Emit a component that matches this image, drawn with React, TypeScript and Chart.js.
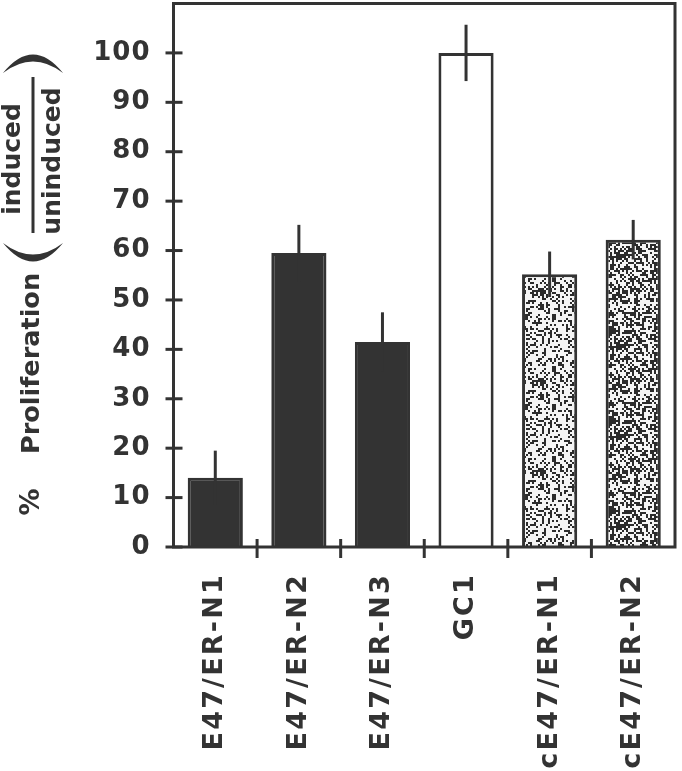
import React, { useEffect, useRef } from 'react';
import { Chart, registerables } from 'chart.js';

Chart.register(...registerables);

// ---- data ----
const categories = ['E47/ER-N1', 'E47/ER-N2', 'E47/ER-N3', 'GC1', 'cE47/ER-N1', 'cE47/ER-N2'];
const values = [14, 59.5, 41.5, 100, 55.2, 62.2];
const errors = [5.5, 5.7, 6, 5.7, 4.6, 4];
const yTicks = [0, 10, 20, 30, 40, 50, 60, 70, 80, 90, 100];
const titlePercent = '%';
const titleMain = 'Proliferation';
const titleNumerator = 'induced';
const titleDenominator = 'uninduced';

const INK = '#333333';
const FONT = '"DejaVu Sans", Verdana, sans-serif';

function hash(x: number, y: number, seed: number) {
  let h = (Math.imul(x, 374761393) + Math.imul(y, 668265263) + Math.imul(seed, 1442695041)) | 0;
  h = Math.imul(h ^ (h >>> 13), 1274126177);
  h ^= h >>> 16;
  return (h >>> 0) / 4294967296;
}

function makeStipple(density: number, seed: number) {
  const size = 90;
  const c = document.createElement('canvas');
  c.width = size;
  c.height = size;
  const g = c.getContext('2d')!;
  g.fillStyle = '#f4f4f4';
  g.fillRect(0, 0, size, size);
  g.fillStyle = '#2b2b2b';
  for (let y = 0; y < size; y += 2) {
    for (let x = 0; x < size; x += 2) {
      if (hash(x, y, seed) < density) g.fillRect(x, y, 2, 2);
    }
  }
  return g.createPattern(c, 'repeat')!;
}

function line(ctx: CanvasRenderingContext2D, x1: number, y1: number, x2: number, y2: number) {
  ctx.beginPath();
  ctx.moveTo(x1, y1);
  ctx.lineTo(x2, y2);
  ctx.stroke();
}

const decor = {
  id: 'decor',
  beforeDraw(chart: any) {
    const ctx = chart.ctx as CanvasRenderingContext2D;
    ctx.save();
    ctx.fillStyle = '#ffffff';
    ctx.fillRect(0, 0, chart.width, chart.height);
    ctx.restore();
  },
  afterDatasetsDraw(chart: any) {
    const ctx = chart.ctx as CanvasRenderingContext2D;
    const a = chart.chartArea;
    const xs = chart.scales.x;
    const ys = chart.scales.y;
    ctx.save();
    ctx.strokeStyle = INK;
    ctx.fillStyle = INK;
    ctx.lineWidth = 3;

    // error bars
    const meta = chart.getDatasetMeta(0);
    meta.data.forEach((bar: any, i: number) => {
      const y1 = ys.getPixelForValue(values[i] + errors[i]);
      const y2 = ys.getPixelForValue(values[i] - errors[i]);
      line(ctx, bar.x, y1, bar.x, y2);
    });

    // frame
    ctx.strokeRect(a.left, a.top, a.right - a.left, a.bottom - a.top);

    // y tick marks
    yTicks.forEach((v) => {
      const y = ys.getPixelForValue(v);
      line(ctx, a.left - 8, y, a.left + 9, y);
    });
    // x tick marks between categories
    for (let i = 1; i < categories.length; i++) {
      const x = (xs.getPixelForValue(i - 1) + xs.getPixelForValue(i)) / 2;
      line(ctx, x, a.bottom - 8, x, a.bottom + 11);
    }

    // y tick labels
    ctx.font = `bold 26px ${FONT}`;
    (ctx as any).letterSpacing = '1px';
    ctx.textAlign = 'right';
    ctx.textBaseline = 'middle';
    yTicks.forEach((v) => {
      ctx.fillText(String(v), a.left - 23, ys.getPixelForValue(v));
    });

    // x labels (rotated)
    ctx.font = `bold 27px ${FONT}`;
    (ctx as any).letterSpacing = '2.2px';
    categories.forEach((c, i) => {
      ctx.save();
      ctx.translate(xs.getPixelForValue(i), a.bottom + 26);
      ctx.rotate(-Math.PI / 2);
      ctx.textAlign = 'right';
      ctx.textBaseline = 'middle';
      ctx.fillText(c, 0, 0);
      ctx.restore();
    });

    // y title
    const rotText = (t: string, x: number, y: number, align: CanvasTextAlign, font: string, spacing: string) => {
      ctx.save();
      ctx.translate(x, y);
      ctx.rotate(-Math.PI / 2);
      ctx.font = font;
      (ctx as any).letterSpacing = spacing;
      ctx.textAlign = align;
      ctx.textBaseline = 'middle';
      ctx.fillText(t, 0, 0);
      ctx.restore();
    };
    rotText(titlePercent, 32, 502, 'center', `bold 27px ${FONT}`, '0px');
    rotText(titleMain, 32, 454, 'left', `bold 25.5px ${FONT}`, '0px');
    rotText(titleNumerator, 13, 159, 'center', `bold 25px ${FONT}`, '0px');
    rotText(titleDenominator, 53, 161, 'center', `bold 25px ${FONT}`, '0px');
    // fraction bar
    ctx.lineWidth = 3;
    line(ctx, 33, 77, 33, 233);
    // parentheses (crescents)
    ctx.beginPath();
    ctx.moveTo(3, 243);
    ctx.quadraticCurveTo(33, 280, 63, 243);
    ctx.quadraticCurveTo(33, 266, 3, 243);
    ctx.closePath();
    ctx.fill();
    ctx.beginPath();
    ctx.moveTo(3, 73);
    ctx.quadraticCurveTo(33, 36, 63, 73);
    ctx.quadraticCurveTo(33, 50, 3, 73);
    ctx.closePath();
    ctx.fill();

    ctx.restore();
  },
};

export default function App() {
  const ref = useRef<HTMLCanvasElement>(null);
  useEffect(() => {
    const canvas = ref.current!;
    const light = makeStipple(0.3, 11);
    const dark = makeStipple(0.47, 29);
    const bg: any[] = [INK, INK, INK, '#ffffff', light, dark];
    const chart = new Chart(canvas, {
      type: 'bar',
      data: {
        labels: categories,
        datasets: [
          {
            data: values,
            backgroundColor: bg,
            borderColor: INK,
            borderWidth: 3,
            barPercentage: 0.66,
            categoryPercentage: 1,
          },
        ],
      },
      options: {
        responsive: false,
        animation: false,
        devicePixelRatio: 1,
        layout: { padding: { left: 173.5, right: 7, top: 3.5, bottom: 224 } },
        plugins: { legend: { display: false }, tooltip: { enabled: false } },
        scales: {
          x: { display: false },
          y: { display: false, min: 0, max: 110 },
        },
      },
      plugins: [decor],
    });
    return () => chart.destroy();
  }, []);
  return (
    <div style={{ position: 'fixed', left: 0, top: 0, width: 682, height: 771, background: '#fff' }}>
      <canvas ref={ref} width={682} height={771} style={{ display: 'block' }} />
    </div>
  );
}
